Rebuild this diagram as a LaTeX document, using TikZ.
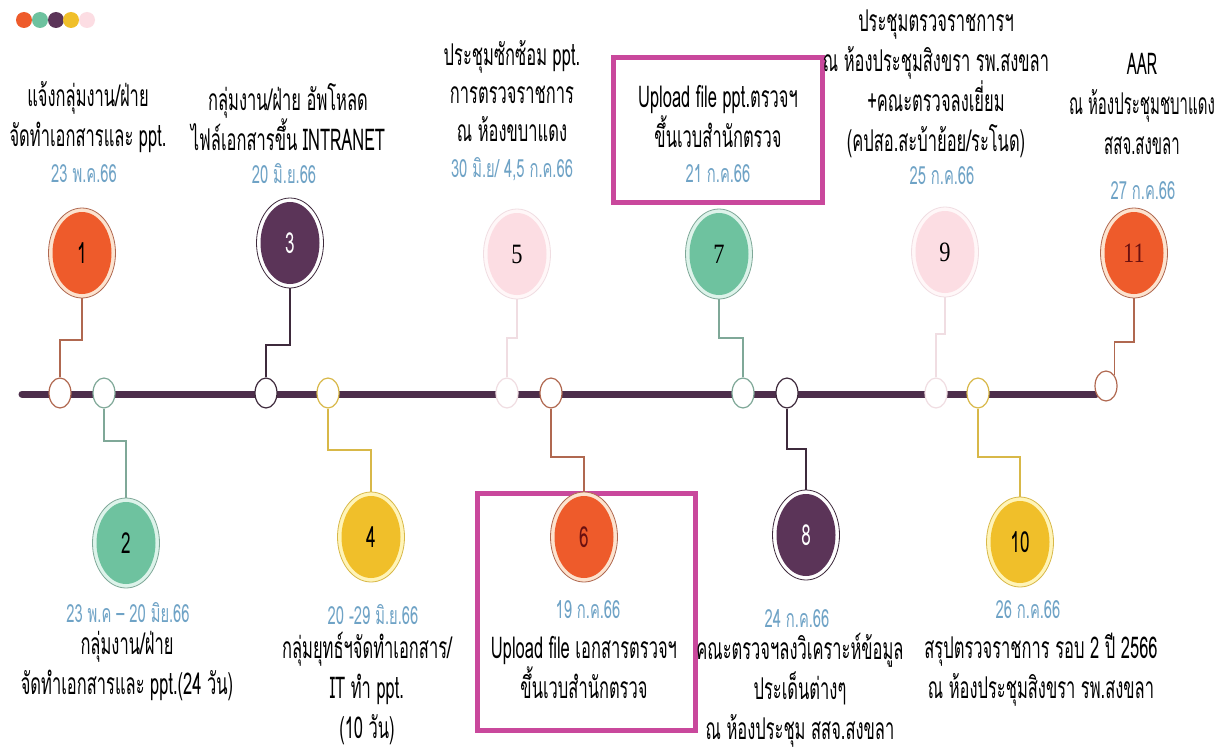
\documentclass[tikz,border=0pt]{standalone}
\usepackage{fontspec}
\usetikzlibrary{shapes.geometric}
\newfontfamily\thai[Script=Thai,FakeStretch=0.55]{Loma}
\newfontfamily\thainarrow[Script=Thai,FakeStretch=0.5]{Loma}
\newfontfamily\thaidate[Script=Thai,FakeStretch=0.59]{Loma}
\newfontfamily\sernum[FakeStretch=0.8]{Liberation Serif}
\definecolor{torange}{HTML}{EE5B2B}
\definecolor{tgreen}{HTML}{6EC29F}
\definecolor{tpurple}{HTML}{5B3458}
\definecolor{tyellow}{HTML}{F0BF2A}
\definecolor{tpink}{HTML}{FCDDE3}
\definecolor{tline}{HTML}{4D2E4B}
\definecolor{tdate}{HTML}{6FA3C6}
\definecolor{tbox}{HTML}{C9489C}
\definecolor{ringO}{HTML}{FCE3CF}
\definecolor{lineO}{HTML}{B06850}
\definecolor{ringG}{HTML}{DDF3EA}
\definecolor{lineG}{HTML}{7FA898}
\definecolor{ringY}{HTML}{FFF4B8}
\definecolor{lineY}{HTML}{D8B848}
\definecolor{lineP}{HTML}{3E2A3C}
\definecolor{lineK}{HTML}{F0DDE2}
\definecolor{ringK}{HTML}{FFF7F8}
\definecolor{numred}{HTML}{6A1010}
\begin{document}
\begin{tikzpicture}[x=1pt,y=-1pt,
  bigc/.style n args={3}{ellipse, minimum width=67pt, minimum height=90pt,
    inner sep=0pt, draw=#3, line width=0.8pt, fill=#2,
    path picture={\fill[#1] (path picture bounding box.center)
      ellipse [x radius=29.5pt, y radius=41pt];}},
  smallc/.style={ellipse, minimum width=22pt, minimum height=30pt,
    inner sep=0pt, fill=white, draw=#1, line width=1.2pt},
  conn/.style={draw=#1, line width=1.3pt},
  tl/.style={draw=tline, line width=7pt, line cap=round},
  num/.style={font=\thaidate\fontsize{29}{29}\selectfont},
  snum/.style={font=\sernum\fontsize{28}{28}\selectfont},
  lab/.style={align=center, inner sep=0pt, text=black,
    font=\thai\fontsize{30}{40}\selectfont},
  dat/.style={inner sep=0pt, text=tdate, font=\thaidate\fontsize{25}{28}\selectfont},
  hbox/.style={draw=tbox, line width=5pt, inner sep=0pt},
  dot/.style={circle, minimum size=16pt, inner sep=0pt, fill=#1}]
\path[use as bounding box, fill=white] (0,0) rectangle (1221,752);

% top-left dots
\node[dot=torange] (d1) at (24,20) {};
\node[dot=tgreen] (d2) at (40,20) {};
\node[dot=tpurple] (d3) at (56,20) {};
\node[dot=tyellow] (d4) at (71,20) {};
\node[dot=tpink] (d5) at (87,20) {};

% highlight boxes
\node[hbox, minimum width=209pt, minimum height=144pt] (box7) at (717.5,130) {};
\node[hbox, minimum width=218pt, minimum height=237pt] (box6) at (586,611.5) {};

% timeline
\coordinate (tls) at (22,394);
\coordinate (tle) at (1096,394);
\draw[tl] (tls) -- (tle);

% small circles on the timeline
\node[smallc=lineO] (c1) at (60,393) {};
\node[smallc=lineG] (c2) at (104,393) {};
\node[smallc=lineP] (c3) at (266,393) {};
\node[smallc=lineY] (c4) at (328,393) {};
\node[smallc=lineK] (c5) at (507,393) {};
\node[smallc=lineO] (c6) at (551,393) {};
\node[smallc=lineG] (c7) at (743,393) {};
\node[smallc=lineP] (c8) at (787,393) {};
\node[smallc=lineK] (c9) at (936,393) {};
\node[smallc=lineY] (c10) at (978,393) {};
\node[smallc=lineO] (c11) at (1106,386) {};

% big circles
\node[bigc={torange}{ringO}{lineO}, num, text=black] (b1) at (82,253) {1};
\node[bigc={tpurple}{white}{lineP}, num, text=white] (b3) at (290,243) {3};
\node[bigc={tpink}{ringK}{lineK}, snum, text=black] (b5) at (517,254) {5};
\node[bigc={tgreen}{ringG}{lineG}, snum, text=black] (b7) at (719,254) {7};
\node[bigc={tpink}{ringK}{lineK}, snum, text=black] (b9) at (945,252) {9};
\node[bigc={torange}{ringO}{lineO}, snum, text=numred] (b11) at (1134,253) {11};
\node[bigc={tgreen}{ringG}{lineG}, num, text=black] (b2) at (126,543) {2};
\node[bigc={tyellow}{ringY}{lineY}, num, text=black] (b4) at (371,537) {4};
\node[bigc={torange}{ringO}{lineO}, num, text=numred] (b6) at (584,537) {6};
\node[bigc={tpurple}{white}{lineP}, num, text=white] (b8) at (806,535) {8};
\node[bigc={tyellow}{ringY}{lineY}, num, text=black] (b10) at (1020,542) {10};

% connectors
\draw[conn=lineO] (c1.north) -- (c1.north |- 0,340) -| (b1.south);
\draw[conn=lineG] (c2.south) -- (c2.south |- 0,441) -| (b2.north);
\draw[conn=lineP] (c3.north) -- (c3.north |- 0,345) -| (b3.south);
\draw[conn=lineY] (c4.south) -- (c4.south |- 0,450) -| (b4.north);
\draw[conn=lineK] (c5.north) -- (c5.north |- 0,338) -| (b5.south);
\draw[conn=lineO] (c6.south) -- (c6.south |- 0,457) -| (b6.north);
\draw[conn=lineG] (c7.north) -- (c7.north |- 0,338) -| (b7.south);
\draw[conn=lineP] (c8.south) -- (c8.south |- 0,449) -| (b8.north);
\draw[conn=lineK] (c9.north) -- (c9.north |- 0,334) -| (b9.south);
\draw[conn=lineY] (c10.south) -- (c10.south |- 0,457) -| (b10.north);
\draw[conn=lineO] (c11.north east) -- (c11.north east |- 0,342) -| (b11.south);

% upper texts
\node[lab] (t1) at (88,117) {แจ้งกลุ่มงาน/ฝ่าย\\จัดทำเอกสารและ ppt.};
\node[dat] (e1) at (84,174) {23 พ.ค.66};
\node[lab] (t3) at (288,117) {กลุ่มงาน/ฝ่าย อัพโหลด\\ไฟล์เอกสารขึ้น INTRANET};
\node[dat] (e3) at (284,174) {20 มิ.ย.66};
\node[lab, font=\thai\fontsize{30}{38}\selectfont] (t5) at (512,91) {ประชุมซักซ้อม ppt.\\การตรวจราชการ\\ณ ห้องขบาแดง};
\node[dat] (e5) at (512,169) {30 มิ.ย/ 4,5 ก.ค.66};
\node[lab] (t7) at (718,116) {Upload file ppt.ตรวจฯ\\ขึ้นเวบสำนักตรวจ};
\node[dat] (e7) at (718,174) {21 ก.ค.66};
\node[lab] (t9) at (936,84) {ประชุมตรวจราชการฯ\\ณ ห้องประชุมสิงขรา รพ.สงขลา\\+คณะตรวจลงเยี่ยม\\(คปสอ.สะบ้าย้อย/ระโนด)};
\node[dat] (e9) at (942,176) {25 ก.ค.66};
\node[lab, font=\thainarrow\fontsize{30}{40}\selectfont] (t11) at (1142,104) {AAR\\ณ ห้องประชุมชบาแดง\\สสจ.สงขลา};
\node[dat] (e11) at (1143,191) {27 ก.ค.66};

% lower texts
\node[dat] (e2) at (128,613) {23 พ.ค – 20 มิย.66};
\node[lab] (t2) at (127,666) {กลุ่มงาน/ฝ่าย\\จัดทำเอกสารและ ppt.(24 วัน)};
\node[dat] (e4) at (373,615) {20 -29 มิ.ย.66};
\node[lab] (t4) at (367,688) {กลุ่มยุทธ์ฯจัดทำเอกสาร/\\IT ทำ ppt.\\(10 วัน)};
\node[dat] (e6) at (588,610) {19 ก.ค.66};
\node[lab] (t6) at (584,667) {Upload file เอกสารตรวจฯ\\ขึ้นเวบสำนักตรวจ};
\node[dat] (e8) at (797,619) {24 ก.ค.66};
\node[lab] (t8) at (800,690) {คณะตรวจฯลงวิเคราะห์ข้อมูล\\ประเด็นต่างๆ\\ณ ห้องประชุม สสจ.สงขลา};
\node[dat] (e10) at (1028,610) {26 ก.ค.66};
\node[lab] (t10) at (1041,670) {สรุปตรวจราชการ รอบ 2 ปี 2566\\ณ ห้องประชุมสิงขรา รพ.สงขลา};
\end{tikzpicture}
\end{document}
